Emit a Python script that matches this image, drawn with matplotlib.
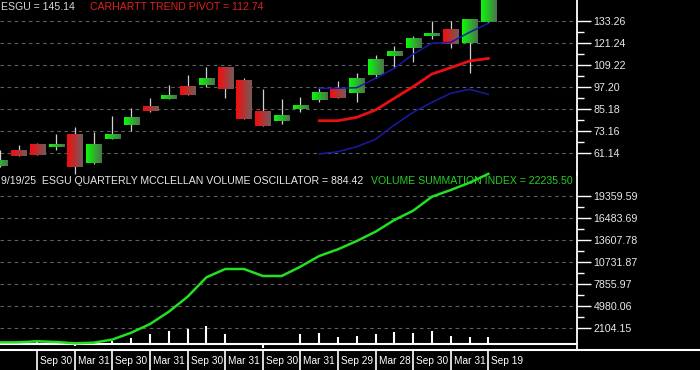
import matplotlib
matplotlib.use("Agg")
import matplotlib.pyplot as plt
import numpy as np
from matplotlib.lines import Line2D

plt.rcParams['font.family'] = ['Liberation Sans', 'DejaVu Sans']

# quarterly candles, Q1 2019 .. Q3 2025 (partial quarter)
opens = [54.23, 62.94, 65.66, 64.73, 71.64, 55.70, 69.08, 76.53, 86.49, 90.67,
         97.75, 98.45, 107.70, 101.01, 83.77, 78.87, 85.24, 90.13, 96.28, 93.78,
         103.73, 114.23, 118.58, 125.10, 128.20, 120.97, 132.72]
highs = [62.94, 65.66, 66.91, 71.64, 75.61, 72.73, 81.43, 85.94, 91.38, 98.29,
         103.73, 108.24, 108.24, 101.93, 96.11, 90.67, 91.93, 97.04, 100.46, 104.98,
         114.61, 119.50, 124.94, 133.10, 133.10, 134.19, 145.14]
lows = [53.90, 59.60, 60.00, 62.94, 49.88, 55.16, 69.08, 73.27, 83.60, 90.67,
        92.85, 97.04, 91.38, 79.96, 75.99, 77.08, 83.77, 88.88, 91.38, 89.21,
        102.26, 107.70, 110.96, 123.31, 118.58, 104.65, 132.00]
closes = [56.95, 59.84, 60.22, 66.20, 53.85, 65.66, 71.26, 80.51, 84.15, 92.31,
          93.01, 102.10, 96.11, 79.96, 75.99, 81.59, 87.41, 94.32, 91.38, 101.93,
          112.43, 116.78, 123.85, 126.73, 120.43, 133.64, 145.14]

# carhartt trend pivot and bands (from quarter 17 on)
band_start = 17
band_upper = [96.49, 96.49, 96.82, 101.93, 107.37, 114.99, 120.97, 121.51, 126.95, 131.85]
pivot = [78.87, 78.87, 80.72, 84.69, 91.06, 97.36, 104.27, 107.70, 111.34, 112.74]
band_lower = [60.76, 62.01, 64.73, 68.76, 76.53, 83.44, 88.88, 93.78, 95.95, 93.23]

# volume summation index and quarterly mcclellan volume oscillator
summation = [222, 222, 353, 261, 92, 170, 588, 1477, 2614, 4222,
             6183, 8719, 9804, 9804, 8889, 8889, 10105, 11503, 12379, 13464,
             14680, 16209, 17425, 19255, 20131, 21085, 22235.50]
oscillator = [0, 0, 261, 222, -261, 301, 431, 824, 1307, 1699,
              1961, 2418, 1307, 0, -484, -131, 1307, 1438, 915, 1046,
              1307, 1569, 1438, 1699, 1046, 915, 884.42]

date_pos = list(range(2, 27, 2))
date_labels = ["Sep 30", "Mar 31", "Sep 30", "Mar 31", "Sep 30", "Mar 31", "Sep 30",
               "Mar 31", "Sep 29", "Mar 28", "Sep 30", "Mar 31", "Sep 19"]

price_ticks = [133.26, 121.24, 109.22, 97.20, 85.18, 73.16, 61.14]
vsi_ticks = [19359.59, 16483.69, 13607.78, 10731.87, 7855.97, 4980.06, 2104.15]

W, H = 700, 370
fig = plt.figure(figsize=(7, 3.7), dpi=100, facecolor='black')

def box(l, t, r, b):
    return [l / W, 1 - b / H, (r - l) / W, (b - t) / H]

xlim = (0.015, 30.72)
ax1 = fig.add_axes(box(0, 0, 577, 175))
ax2 = fig.add_axes(box(0, 172, 577, 350))
axd = fig.add_axes(box(0, 350, 700, 370))

def gradient(c_left, c_right, n=40):
    t = np.linspace(0, 1, n)[None, :, None]
    a = np.array(c_left, float)[None, None, :]
    b = np.array(c_right, float)[None, None, :]
    return (a * (1 - t) + b * t) / 255.0

GREEN = gradient((10, 250, 10), (75, 115, 75))
RED = gradient((245, 12, 12), (115, 90, 90))

bw = 0.8
x = np.arange(len(closes))
for i in x:
    o, h, l, c = opens[i], highs[i], lows[i], closes[i]
    ax1.vlines(i, l, h, color='#d0d0d0', lw=0.9, zorder=2)
    lo, hi = min(o, c), max(o, c)
    ax1.imshow(GREEN if c >= o else RED, extent=(i - bw / 2, i + bw / 2, lo, hi),
               aspect='auto', interpolation='bilinear', zorder=3)

xb = np.arange(band_start, band_start + len(pivot))
ax1.plot(xb, band_upper, color='#1a1aa8', lw=1.1, zorder=4)
ax1.plot(xb, band_lower, color='#1a1aa8', lw=1.1, zorder=4)
ax1.plot(xb, pivot, color='#e81010', lw=2.0, zorder=4)

ax1.set_xlim(*xlim)
ax1.set_ylim(144.519 - 0.54389 * 175, 144.519)
ax1.set_yticks(price_ticks)
ax1.set_yticklabels([f"{v:.2f}" for v in price_ticks])
ax1.set_yticks([(a + b) / 2 for a, b in zip(price_ticks[:-1], price_ticks[1:])], minor=True)

ax2.vlines(x, 0, oscillator, color='white', lw=1.5, zorder=3)
ax2.axhline(0, color='white', lw=1.5, zorder=3)
ax2.plot(x, summation, color='#22e022', lw=1.8, zorder=4)
ax2.set_xlim(*xlim)
ax2.set_ylim(-6 * 130.72, 172 * 130.72)
ax2.set_yticks(vsi_ticks)
ax2.set_yticklabels([f"{v:.2f}" for v in vsi_ticks])
ax2.set_yticks([(a + b) / 2 for a, b in zip(vsi_ticks[:-1], vsi_ticks[1:])], minor=True)

for ax in (ax1, ax2):
    ax.set_facecolor('black')
    for s in ('top', 'left', 'bottom'):
        ax.spines[s].set_visible(False)
    ax.spines['right'].set_color('white')
    ax.spines['right'].set_linewidth(1.3)
    ax.yaxis.tick_right()
    ax.tick_params(axis='y', which='major', length=10, width=1, color='white',
                   labelcolor='#e8e8e8', labelsize=7.7, pad=2)
    ax.tick_params(axis='y', which='minor', length=5, width=1, color='white')
    ax.tick_params(axis='x', bottom=False, labelbottom=False)
    ax.grid(axis='y', which='major', color='#5f5f5f', lw=0.8, ls=(0, (3.2, 3.2)))
ax2.patch.set_alpha(0)

# date strip
axd.set_facecolor('black')
axd.set_xlim(xlim[0], xlim[0] + (xlim[1] - xlim[0]) * 700 / 577)
axd.set_ylim(0, 1)
axd.axis('off')
axd.vlines(date_pos, 0, 1, color='white', lw=1.2)
for p, lab in zip(date_pos, date_labels):
    axd.text(p + 0.16, 0.45, lab, color='white', fontsize=7.3, ha='left', va='center')

fig.add_artist(Line2D([0, 1], [20 / H, 20 / H], color='white', lw=1.5,
                      transform=fig.transFigure))

def label(px, py, s, color):
    fig.text(px / W, 1 - py / H, s, color=color, fontsize=7.6, ha='left', va='center')

label(1, 6.5, "ESGU = 145.14", '#d8d8d8')
label(90, 6.5, "CARHARTT TREND PIVOT = 112.74", '#e02020')
label(1, 181.5, "9/19/25  ESGU QUARTERLY MCCLELLAN VOLUME OSCILLATOR = 884.42", '#e8e8e8')
label(371, 181.5, "VOLUME SUMMATION INDEX = 22235.50", '#22d022')

fig.savefig('out.png', dpi=100, facecolor='black')
